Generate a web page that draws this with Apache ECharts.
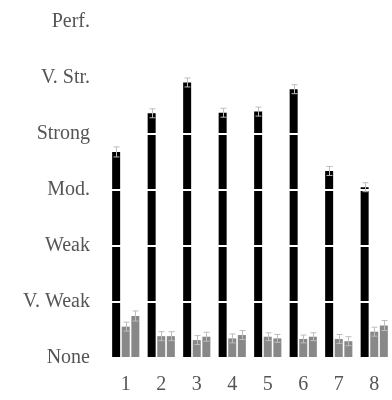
<!DOCTYPE html>
<html><head><meta charset="utf-8">
<script src="https://cdn.jsdelivr.net/npm/echarts@6/dist/echarts.min.js"></script>
<style>html,body{margin:0;padding:0;background:#fff}#c{width:392px;height:400px}</style>
</head><body><div id="c"></div>
<script>
const categories = ['1','2','3','4','5','6','7','8'];
const yTickLabels = ['None','V. Weak','Weak','Mod.','Strong','V. Str.','Perf.'];
const seriesA = [3.68, 4.37, 4.92, 4.38, 4.40, 4.80, 3.34, 3.05];
const seriesB = [0.56, 0.39, 0.32, 0.35, 0.38, 0.34, 0.34, 0.47];
const seriesC = [0.75, 0.39, 0.38, 0.41, 0.35, 0.38, 0.30, 0.58];
const errA = [0.09, 0.08, 0.08, 0.08, 0.08, 0.08, 0.08, 0.08];
const errB = [0.08, 0.08, 0.08, 0.08, 0.07, 0.07, 0.08, 0.08];
const errC = [0.09, 0.08, 0.08, 0.08, 0.07, 0.07, 0.08, 0.09];

const BW = 8, GAP = 0.2;
const colors = ['#000000', '#888888', '#888888'];
const vals = [seriesA, seriesB, seriesC];
const errs = [errA, errB, errC];

function errSeries(k) {
  return {
    type: 'custom', z: 10,
    data: vals[k].map((v, i) => [i, v, errs[k][i]]),
    renderItem: function (params, api) {
      const i = api.value(0), v = api.value(1), e = api.value(2);
      const step = BW * (1 + GAP);
      const off = (k - 1) * step;
      const hi = api.coord([i, v + e]);
      const lo = api.coord([i, v - e]);
      const x = Math.round(hi[0] + off) + 0.5;
      const style = { stroke: '#bdbdbd', lineWidth: 1 };
      return { type: 'group', children: [
        { type: 'line', shape: { x1: x, y1: hi[1], x2: x, y2: lo[1] }, style },
        { type: 'line', shape: { x1: x - 3, y1: hi[1], x2: x + 3, y2: hi[1] }, style },
        { type: 'line', shape: { x1: x - 3, y1: lo[1], x2: x + 3, y2: lo[1] }, style }
      ]};
    }
  };
}

const chart = echarts.init(document.getElementById('c'));
chart.setOption({
  animation: false,
  backgroundColor: '#fff',
  grid: { left: 108, right: -4, top: 22, bottom: 42, containLabel: false },
  xAxis: {
    type: 'category', data: categories,
    axisLine: { show: false }, axisTick: { show: false },
    axisLabel: { color: '#555', fontFamily: 'Liberation Serif', fontSize: 20, margin: 17 }
  },
  yAxis: {
    type: 'value', min: 0, max: 6, interval: 1, z: 5,
    axisLine: { show: false }, axisTick: { show: false },
    splitLine: { show: true, lineStyle: { color: '#ffffff', width: 2 } },
    axisLabel: { color: '#555', fontFamily: 'Liberation Serif', fontSize: 20, margin: 18,
      formatter: v => yTickLabels[v] }
  },
  series: [0, 1, 2].map(k => ({
    type: 'bar', data: vals[k], barWidth: BW, barGap: (GAP * 100) + '%',
    itemStyle: { color: colors[k] }, z: 2
  })).concat([errSeries(0), errSeries(1), errSeries(2)])
});
</script></body></html>
